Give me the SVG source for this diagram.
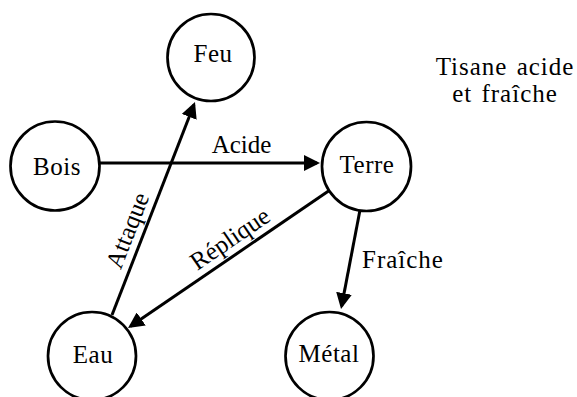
<svg xmlns="http://www.w3.org/2000/svg" width="577" height="397" viewBox="0 0 577 397">
<style>
.node circle{fill:#fff;stroke:#000;stroke-width:2.7}
text{font-family:"Liberation Serif","Times New Roman",serif;font-size:25px;fill:#000}
.nl{text-anchor:middle}
.node text{letter-spacing:0.5px}
.edge{stroke:#000;stroke-width:3;fill:none;marker-end:url(#arr)}
</style>
<defs>
<marker id="arr" markerUnits="userSpaceOnUse" markerWidth="16" markerHeight="16" refX="13" refY="8" orient="auto">
<path d="M0,0 L16,8 L0,16 z" fill="#000"/>
</marker>
</defs>
<rect width="577" height="397" fill="#fff"/>
<g id="connectors">
<line class="edge" x1="100" y1="163" x2="317" y2="163"/>
<line class="edge" x1="112" y1="315" x2="193.9" y2="104.8"/>
<line class="edge" x1="330" y1="190" x2="130.5" y2="326.3"/>
<line class="edge" x1="360" y1="210" x2="341.6" y2="306.1"/>
<text x="241.5" y="153" class="nl">Acide</text>
<text x="362" y="268" letter-spacing="1">Fraîche</text>
<g transform="translate(142.6,236.4) rotate(-68.7)"><text x="0" y="-8" class="nl">Attaque</text></g>
<g transform="translate(239.1,252.1) rotate(-34.3)"><text x="0" y="-8" class="nl">Réplique</text></g>
</g>
<g id="feu" class="node"><circle cx="211" cy="57.5" r="43.5"/><text class="nl" x="213" y="62">Feu</text></g>
<g id="bois" class="node"><circle cx="55" cy="166" r="44.5"/><text class="nl" x="57" y="175">Bois</text></g>
<g id="terre" class="node"><circle cx="366.5" cy="166.5" r="44.5"/><text class="nl" x="367" y="173">Terre</text></g>
<g id="eau" class="node"><circle cx="92" cy="356" r="44"/><text class="nl" x="93" y="363">Eau</text></g>
<g id="metal" class="node"><circle cx="329.5" cy="356" r="44"/><text class="nl" x="329" y="362">Métal</text></g>
<g id="note">
<text x="505" y="75" class="nl" letter-spacing="1" word-spacing="2">Tisane acide</text>
<text x="505" y="102" class="nl" letter-spacing="1" word-spacing="2">et fraîche</text>
</g>
</svg>
